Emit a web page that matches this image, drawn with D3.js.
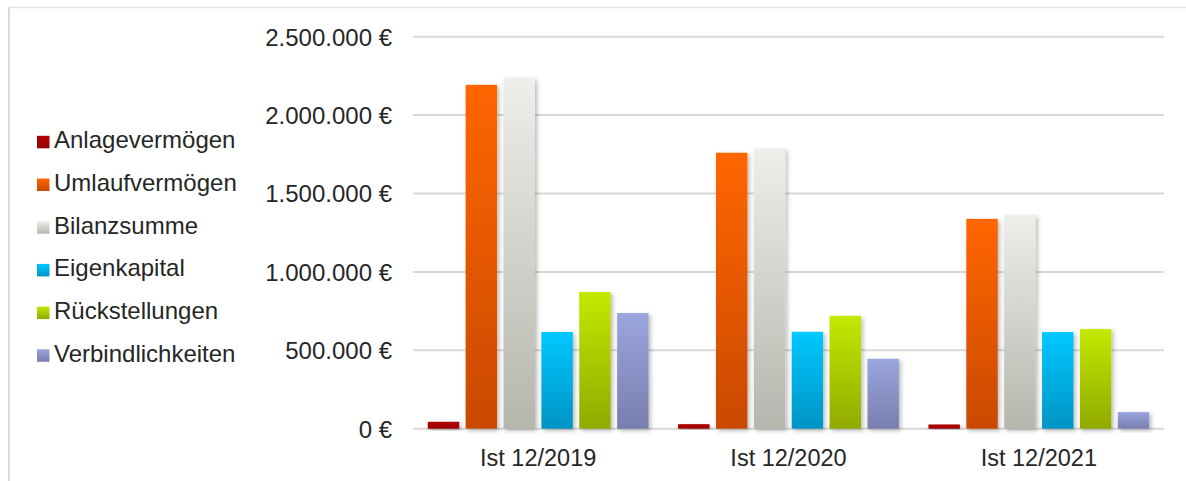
<!DOCTYPE html>
<html>
<head>
<meta charset="utf-8">
<script src="https://cdn.jsdelivr.net/npm/d3@7"></script>
<style>
  html, body { margin: 0; padding: 0; background: #fff; }
  svg { display: block; font-family: "Liberation Sans", Arial, sans-serif; }
</style>
</head>
<body>
<div id="chart"></div>
<script>
const categories = ['Ist 12/2019', 'Ist 12/2020', 'Ist 12/2021'];
const seriesNames = ['Anlagevermögen', 'Umlaufvermögen', 'Bilanzsumme', 'Eigenkapital', 'Rückstellungen', 'Verbindlichkeiten'];
const anlagevermoegen = [44000, 29000, 27000];
const umlaufvermoegen = [2193000, 1760000, 1338000];
const bilanzsumme = [2238000, 1786000, 1363000];
const eigenkapital = [617000, 618000, 616000];
const rueckstellungen = [872000, 720000, 636000];
const verbindlichkeiten = [738000, 446000, 106000];
const yTicks = [0, 500000, 1000000, 1500000, 2000000, 2500000];

const seriesValues = [anlagevermoegen, umlaufvermoegen, bilanzsumme, eigenkapital, rueckstellungen, verbindlichkeiten];
// top / bottom of each bar gradient
const gradColors = [
  ['#b40000', '#960000'],
  ['#ff6600', '#c94900'],
  ['#eeeeea', '#b6b6ae'],
  ['#00c8ff', '#0094c4'],
  ['#c4e800', '#91aa00'],
  ['#9ba6de', '#787eae']
];

const width = 1186, height = 481;
const plot = { left: 413, right: 1164, top: 36.7, bottom: 428.7 };

const svg = d3.select('#chart').append('svg')
  .attr('width', width).attr('height', height);

const defs = svg.append('defs');
gradColors.forEach((c, i) => {
  const lg = defs.append('linearGradient')
    .attr('id', 'grad' + i)
    .attr('x1', 0).attr('y1', 0).attr('x2', 0).attr('y2', 1);
  lg.append('stop').attr('offset', '0%').attr('stop-color', c[0]);
  lg.append('stop').attr('offset', '100%').attr('stop-color', c[1]);
});
const shadow = defs.append('filter').attr('id', 'shadow')
  .attr('x', '-30%').attr('y', '-10%').attr('width', '160%').attr('height', '130%');
shadow.append('feDropShadow')
  .attr('dx', 2).attr('dy', 2).attr('stdDeviation', 2.2)
  .attr('flood-color', '#000').attr('flood-opacity', 0.28);

// Rahmen
svg.append('line')
  .attr('x1', 8).attr('y1', 7.5).attr('x2', width).attr('y2', 7.5)
  .style('stroke', '#e3e3e3').style('stroke-width', 1.5);
svg.append('line')
  .attr('x1', 9).attr('y1', 7).attr('x2', 9).attr('y2', height)
  .style('stroke', '#dadada').style('stroke-width', 2);

const x0 = d3.scaleBand().domain(categories).range([plot.left, plot.right]).padding(0);
const x1 = d3.scaleBand().domain(seriesNames).range([0, x0.bandwidth()])
  .paddingInner(0.17).paddingOuter(0.39);
const y = d3.scaleLinear().domain([0, 2500000]).range([plot.bottom, plot.top]);

const fmt = v => d3.format(',')(v).replace(/,/g, '.') + ' €';

// Gitterlinien
svg.append('g')
  .selectAll('line').data(yTicks).join('line')
  .attr('x1', plot.left).attr('x2', plot.right)
  .attr('y1', d => y(d)).attr('y2', d => y(d))
  .style('stroke', '#d9d9d9').style('stroke-width', 2);

// y-Achse
const yAxis = svg.append('g')
  .attr('transform', `translate(${plot.left - 21},0)`)
  .call(d3.axisLeft(y).tickValues(yTicks).tickFormat(fmt).tickSize(0).tickPadding(0));
yAxis.select('.domain').remove();
yAxis.selectAll('text')
  .style('font-family', '"Liberation Sans", Arial, sans-serif')
  .style('font-size', '24px').style('fill', '#262626')
  .attr('dy', '0.35em');

// x-Achse
const xAxis = svg.append('g')
  .attr('transform', `translate(0,${plot.bottom})`)
  .call(d3.axisBottom(x0).tickSize(0).tickPadding(0));
xAxis.select('.domain').remove();
xAxis.selectAll('text')
  .style('font-family', '"Liberation Sans", Arial, sans-serif')
  .style('font-size', '23.5px').style('fill', '#262626')
  .attr('dy', null).attr('y', 37);

// Balken
const rows = [];
categories.forEach((cat, ci) => {
  seriesNames.forEach((s, si) => rows.push({ cat, s, si, v: seriesValues[si][ci] }));
});
svg.append('g').selectAll('rect').data(rows).join('rect')
  .attr('x', d => x0(d.cat) + x1(d.s))
  .attr('y', d => y(d.v))
  .attr('width', x1.bandwidth())
  .attr('height', d => y(0) - y(d.v))
  .attr('fill', d => `url(#grad${d.si})`)
  .attr('filter', 'url(#shadow)');

// Legende
const legend = svg.append('g').attr('transform', 'translate(37,148.3)');
const item = legend.selectAll('g').data(seriesNames).join('g')
  .attr('transform', (d, i) => `translate(0,${i * 42.7})`);
item.append('rect')
  .attr('x', 0).attr('y', -12.5).attr('width', 12.5).attr('height', 12.5)
  .attr('fill', (d, i) => `url(#grad${i})`);
item.append('text')
  .attr('x', 17).attr('y', 0)
  .style('font-size', '24px').style('fill', '#262626')
  .text(d => d);
</script>
</body>
</html>
